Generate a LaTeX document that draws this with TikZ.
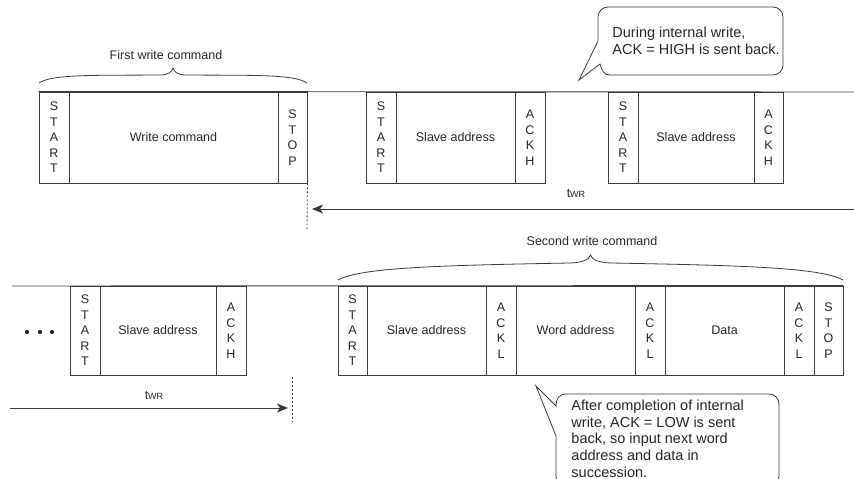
\documentclass[tikz,border=0pt]{standalone}
\usepackage{fontspec}
\setmainfont{Liberation Sans}
\usetikzlibrary{arrows.meta}
\definecolor{linecol}{HTML}{3A3A3A}
\definecolor{txtcol}{HTML}{262626}
\newcommand\mkcell[6]{\node[cell, minimum width={#3-#2}, minimum height={#5-#4}] (#1) at ({(#2+#3)/2},{(#4+#5)/2}) {#6};}
\begin{document}
\begin{tikzpicture}[x=1pt,y=-1pt,
  line width=0.9pt,
  cell/.style={draw=linecol, rectangle, inner sep=0pt, text=txtcol,
    font=\fontsize{12.5}{15.5}\selectfont, align=center},
  lbl/.style={text=txtcol, font=\fontsize{12.5}{15}\selectfont, inner sep=0pt},
  calltext/.style={text=txtcol, font=\fontsize{14.5}{17}\selectfont, align=left, inner sep=0pt, anchor=north west},
  arr/.style={draw=linecol, -{Stealth[length=11pt,width=9pt,inset=3pt]}},
  dotline/.style={draw=linecol, dash pattern=on 2pt off 2pt, line width=0.8pt},
  curve/.style={draw=linecol, line width=0.8pt},
  twr/.style={lbl, anchor=base},
]
\useasboundingbox (0,0) rectangle (854,479);
\clip (0,0) rectangle (854,479);

% ---------- top row ----------
\coordinate (toprowend) at (854,92);
\mkcell{s1}{39}{69}{92}{183}{S\\T\\A\\R\\T}
\mkcell{wc}{69}{278}{92}{183}{Write command}
\mkcell{sp1}{278}{307}{92}{183}{S\\T\\O\\P}
\mkcell{s2}{366}{396}{92}{183}{S\\T\\A\\R\\T}
\mkcell{sa2}{396}{515}{92}{183}{Slave address}
\mkcell{ak2}{515}{545}{92}{183}{A\\C\\K\\H}
\mkcell{s3}{608}{638}{92}{183}{S\\T\\A\\R\\T}
\mkcell{sa3}{638}{754}{92}{183}{Slave address}
\mkcell{ak3}{754}{783}{92}{183}{A\\C\\K\\H}
\draw[linecol] (s1.north west) -- (toprowend);

% brace 1
\draw[curve] (39,83) .. controls (52,74) and (95,75.5) .. (160,75)
  .. controls (168,75) and (172,72) .. (173,68)
  .. controls (174,72) and (178,75) .. (186,75)
  .. controls (251,75.5) and (294,74) .. (307,83);
\node[lbl, anchor=base] (lab1) at (166,59) {First write command};

% dotted line and tWR arrow (top)
\coordinate (dot1e) at (307,230);
\draw[dotline] (sp1.south east) -- (dot1e);
\coordinate (a1s) at (854,209);
\coordinate (a1e) at (312,209);
\draw[arr] (a1s) -- (a1e);
\node[twr] (t1) at (576,197) {t{\fontsize{9}{9}\selectfont WR}};

% callout top
\node[calltext] (c1) at (612,26.5) {During internal write,\\[0.5pt]ACK = HIGH is sent back.};
\draw[curve] (598,41) -- (579,80) -- (600,64)
  .. controls (602,71) and (604,75) .. (610,75)
  [rounded corners=10pt] -- (783,75) -- (783,7) -- (598,7) -- (598,41);

% ---------- bottom row ----------
\coordinate (botrowstart) at (12,286);
\mkcell{s4}{70}{100}{286}{375}{S\\T\\A\\R\\T}
\mkcell{sa4}{100}{216}{286}{375}{Slave address}
\mkcell{ak4}{216}{246}{286}{375}{A\\C\\K\\H}
\mkcell{s5}{338}{367}{286}{375}{S\\T\\A\\R\\T}
\mkcell{sa5}{367}{486}{286}{375}{Slave address}
\mkcell{al5}{486}{516}{286}{375}{A\\C\\K\\L}
\mkcell{wa}{516}{635}{286}{375}{Word address}
\mkcell{al6}{635}{665}{286}{375}{A\\C\\K\\L}
\mkcell{da}{665}{784}{286}{375}{Data}
\mkcell{al7}{784}{814}{286}{375}{A\\C\\K\\L}
\mkcell{sp2}{814}{843}{286}{375}{S\\T\\O\\P}
\draw[linecol] (botrowstart) -- (sp2.north east);

% dots
\fill[txtcol] (27,332) circle (2.1) (40,332) circle (2.1) (52,332) circle (2.1);

% brace 2
\draw[curve] (338,280) .. controls (360,268) and (430,265.5) .. (570,263)
  .. controls (582,262.5) and (589,260) .. (590.5,255)
  .. controls (592,260) and (599,262.5) .. (611,263)
  .. controls (751,265.5) and (821,268) .. (843,280);
\node[lbl, anchor=base] (lab2) at (592,245) {Second write command};

% tWR arrow (bottom)
\coordinate (a2s) at (10,408);
\coordinate (a2e) at (288,408);
\draw[arr] (a2s) -- (a2e);
\coordinate (dot2s) at (292,377);
\coordinate (dot2e) at (292,422);
\draw[dotline] (dot2s) -- (dot2e);
\node[twr] (t2) at (154,399) {t{\fontsize{9}{9}\selectfont WR}};

% callout bottom
\node[calltext] (c2) at (571,399.5) {After completion of internal\\[-0.3pt]write, ACK = LOW is sent\\[-0.3pt]back, so input next word\\[-0.3pt]address and data in\\[-0.3pt]succession.};
\draw[curve] (556,436) -- (536,386) -- (556,406)
  .. controls (556,399) and (559,394) .. (566,394)
  [rounded corners=10pt] -- (779,394) -- (779,486) -- (556,486) -- (556,436);
\end{tikzpicture}
\end{document}
